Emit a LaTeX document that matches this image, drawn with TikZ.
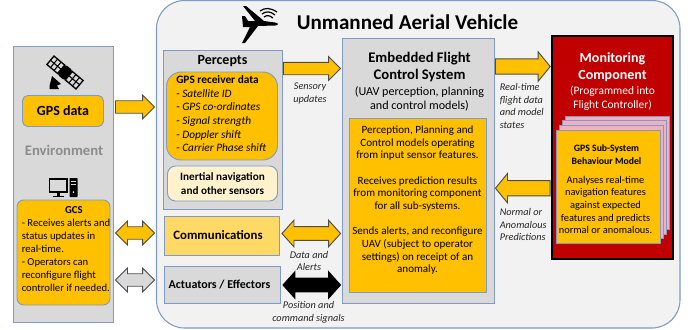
\documentclass[tikz,border=0pt]{standalone}
\usepackage{fontspec}
\setmainfont{Carlito}
\usetikzlibrary{calc}
\definecolor{gold}{HTML}{FFC000}
\definecolor{edgeblue}{HTML}{7F9AC6}
\definecolor{panelgrey}{HTML}{D9D9D9}
\definecolor{darkred}{HTML}{C00000}
\tikzset{
  size/.style 2 args={minimum width=#1*0.75pt,minimum height=#2*0.75pt,inner sep=0pt},
  panel/.style={draw=edgeblue,line width=0.7pt,fill=panelgrey,rectangle},
  goldbox/.style={panel,fill=gold},
  label/.style={inner sep=0.75pt,align=center,font=\fontsize{8.3}{9.5}\selectfont},
  note/.style={inner sep=0.75pt,align=center,font=\fontsize{7.7}{9.5}\selectfont\itshape,text=black!85},
  head/.style={inner sep=0.75pt,align=center,font=\fontsize{11}{13}\selectfont\bfseries},
  page/.style={draw=edgeblue,line width=0.6pt,fill=red!20!blue!8!pink},
  bigarrow/.style={draw=black!70,line width=0.7pt,fill=gold,
    to path={let \p1=(\tikztostart),\p2=(\tikztotarget),\p3=($(\tikztotarget)!9pt!(\tikztostart)$) in
      (\x1,\y1+#1*0.26) -- (\x3,\y1+#1*0.26) -- (\x3,\y1+#1*0.5) -- (\x2,\y1) -- (\x3,\y1-#1*0.5) -- (\x3,\y1-#1*0.26) -- (\x1,\y1-#1*0.26) -- cycle}},
  bothways/.style={draw=black!70,line width=0.7pt,fill=gold,
    to path={let \p1=(\tikztostart),\p2=(\tikztotarget),\p3=($(\tikztotarget)!9pt!(\tikztostart)$),\p4=($(\tikztostart)!9pt!(\tikztotarget)$) in
      (\x1,\y1) -- (\x4,\y1+#1*0.5) -- (\x4,\y1+#1*0.26) -- (\x3,\y1+#1*0.26) -- (\x3,\y1+#1*0.5) -- (\x2,\y1) -- (\x3,\y1-#1*0.5) -- (\x3,\y1-#1*0.26) -- (\x4,\y1-#1*0.26) -- (\x4,\y1-#1*0.5) -- cycle}},
}
\begin{document}
\begin{tikzpicture}[x=0.75pt,y=0.75pt,yscale=-1,xscale=1]
\useasboundingbox (0,0) rectangle (695,329);

%Panels
\draw [draw=edgeblue,line width=0.8pt,fill=black!5,rounded corners=21pt] (156.5,0.5) rectangle (680,328);
\node (env) [panel,size={100}{276}] at (63,184) {};
\node (percepts) [panel,size={119}{159}] at (222.5,129.5) {};
\node (comm) [panel,fill=gold!60!white,size={115}{39}] at (222,235.5) {};
\node (actuators) [panel,size={116}{37}] at (222.5,285) {};
\node (efcs) [panel,size={152}{265}] at (418,170.5) {};
\node (monitor) [draw=black,line width=1.2pt,fill=darkred,rectangle,size={121}{223}] at (612.5,147.5) {};

%Boxes inside the panels
\node (gpsdata) [goldbox,rounded corners=4pt,size={81}{31},font=\fontsize{10.5}{13}\selectfont\bfseries] at (63,111) {GPS data};
\node (gcs) [goldbox,rounded corners=5pt,size={93}{105}] at (63.5,252.5) {};
\node (receiver) [goldbox,rounded corners=11pt,size={111}{88}] at (222,116) {};
\node (inertial) [goldbox,fill=gold!20!white,rounded corners=6pt,size={110}{35},label,font=\fontsize{8.4}{10.5}\selectfont] at (222.5,183.5) {\textbf{Inertial navigation}\\\textbf{and other sensors}};
\node (efcsbody) [goldbox,size={137}{174}] at (417.5,205) {};

%Stacked pages
\draw [page] (565,116) rectangle (669,229.3);
\draw [page] (562,120.7) rectangle (666,234);
\draw [page] (559,125.3) rectangle (663,238.6);
\node (gpsmodel) [goldbox,size={104}{113}] at (608,186.5) {};

% Text Node
\node (envtitle) [head,text=black!45] at (64,150) {Environment};
\node (gcstext) [label,font=\fontsize{8}{9.7}\selectfont,anchor=north west,align=left] at (20.5,205.5) {\hspace*{32.5pt}\textbf{GCS}\\- Receives alerts and\\status updates in\\real-time.\\- Operators can\\reconfigure flight\\controller if needed.};
\node (perceptstitle) [head,font=\fontsize{10.5}{13}\selectfont\bfseries] at (222.5,61) {Percepts};
\node (receivertext) [label,font=\fontsize{8.5}{10.2}\selectfont,anchor=north west,align=left] at (175,74.5) {\textbf{GPS receiver data}\\- \textit{Satellite ID}\\- \textit{GPS co-ordinates}\\- \textit{Signal strength}\\- \textit{Doppler shift}\\- \textit{Carrier Phase shift}};
\node (commtext) [head,font=\fontsize{9.6}{11}\selectfont\bfseries] at (218,235.5) {Communications};
\node (acttext) [head,font=\fontsize{9}{11}\selectfont\bfseries] at (219.5,285) {Actuators / Effectors};
\node (title) [head,font=\fontsize{15.8}{18}\selectfont\bfseries] at (407.5,22) {Unmanned Aerial Vehicle};
\node (efcstitle) [head] at (419.5,67) {Embedded Flight\\Control System};
\node (efcssub) [label,font=\fontsize{9.1}{11}\selectfont] at (419.5,99) {(UAV perception, planning\\and control models)};
\node (efcstext) [label,anchor=north] at (417.5,124.5) {Perception, Planning and\\Control models operating\\from input sensor features.\\[9.5pt]Receives prediction results\\from monitoring component\\for all sub-systems.\\[9.5pt]Sends alerts, and reconfigure\\UAV (subject to operator\\settings) on receipt of an\\anomaly.};
\node (montitle) [head,font=\fontsize{10.5}{13}\selectfont\bfseries,text=white] at (612.5,67) {Monitoring\\Component};
\node (monsub) [label,font=\fontsize{8.6}{10.2}\selectfont,text=white] at (612.5,98) {(Programmed into\\Flight Controller)};
\node (modeltitle) [label,font=\fontsize{7.3}{9.5}\selectfont\bfseries] at (606.5,154.5) {GPS Sub-System\\Behaviour Model};
\node (modeltext) [label,font=\fontsize{7.8}{9.5}\selectfont] at (605.5,205) {Analyses real-time\\navigation features\\against expected\\features and predicts\\normal or anomalous.};

% Notes
\node (sensenote) [note] at (310,93.5) {Sensory\\updates};
\node (datanote) [note] at (309,261) {Data and\\Alerts};
\node (posnote) [note] at (308.5,312.5) {Position and\\command signals};
\node (rtnote) [note,anchor=north west,align=left] at (498.5,82) {Real-time\\flight data\\and model\\states};
\node (prednote) [note,anchor=north west,align=left] at (498.5,207) {Normal or\\Anomalous\\Predictions};

%Arrows
\draw [bigarrow=18pt] ([shift={(2,-4)}]env.east |- gpsdata.east) to ([shift={(-8,-4)}]percepts.west |- gpsdata.west);
\draw [bigarrow=18pt] ([shift={(1,19)}]percepts.north east) to ([shift={(-1,31)}]efcs.north west);
\draw [bigarrow=22pt] ([shift={(1,29)}]efcs.north east) to ([shift={(-1,31)}]monitor.north west);
\draw [bigarrow=22pt] ([shift={(-1,153)}]monitor.north west) to ([shift={(1,151)}]efcs.north east);
\draw [bothways=18pt] ([shift={(2,-2.5)}]env.east |- comm.east) to ([shift={(-8,-2.5)}]percepts.west |- comm.west);
\draw [bothways=18pt,fill=panelgrey] ([shift={(2,-5)}]env.east |- actuators.east) to ([shift={(-8,-5)}]percepts.west |- actuators.west);
\draw [bothways=20pt] ([shift={(2,-2)}]comm.east) to ([shift={(-1,-2)}]efcs.west |- comm.west);
\draw [bothways=20pt,fill=black,draw=black] ([shift={(2,0)}]actuators.east) to ([shift={(-1,0)}]efcs.west |- actuators.west);

%Shape: plane
\fill (243,6) -- (246,6) -- (264,21) -- (275,22.5) .. controls (279,23.5) and (279,25) .. (275,25.5) -- (258,26) -- (245,43) -- (242,43) -- (250,27) -- (243,27) -- (242,16) -- (245,16) -- (248,21) -- (255,21) -- cycle;
\draw [line width=0.9pt] (260,11) .. controls (265,7.5) and (270,7.5) .. (277,12);
\draw [line width=0.9pt] (262,14) .. controls (266,11) and (270,11) .. (275,15);
\draw [line width=0.9pt] (264,17) .. controls (267,15) and (269,15) .. (273,18);

%Shape: satellite
\begin{scope}[shift={(65,72.5)},rotate=40]
\fill [rounded corners=2pt] (-5,-6.5) rectangle (5,6.5);
\foreach \sx in {-1,1} {
  \draw [line width=1pt,fill=panelgrey] (\sx*5,-5.5) rectangle (\sx*19,5.5);
  \draw [line width=0.8pt] (\sx*9.7,-5.5) -- (\sx*9.7,5.5) (\sx*14.3,-5.5) -- (\sx*14.3,5.5) (\sx*5,0) -- (\sx*19,0);
}
\end{scope}
\fill (49.5,86) -- (52,76) -- (61,84) -- (57,85.5) -- (59,89) -- (49.5,89) -- cycle;

%Shape: computer
\draw [line width=1.4pt] (49.5,179) rectangle (67,192);
\fill (53,195.5) rectangle (63.5,197);
\fill (56.5,192) rectangle (60,196);
\fill [rounded corners=0.5pt] (69.5,178) rectangle (77.5,197);
\draw [panelgrey,line width=0.6pt] (71,181) -- (76,181) (71,184) -- (76,184);
\fill [panelgrey] (73.5,192) circle (1);

\end{tikzpicture}
\end{document}
